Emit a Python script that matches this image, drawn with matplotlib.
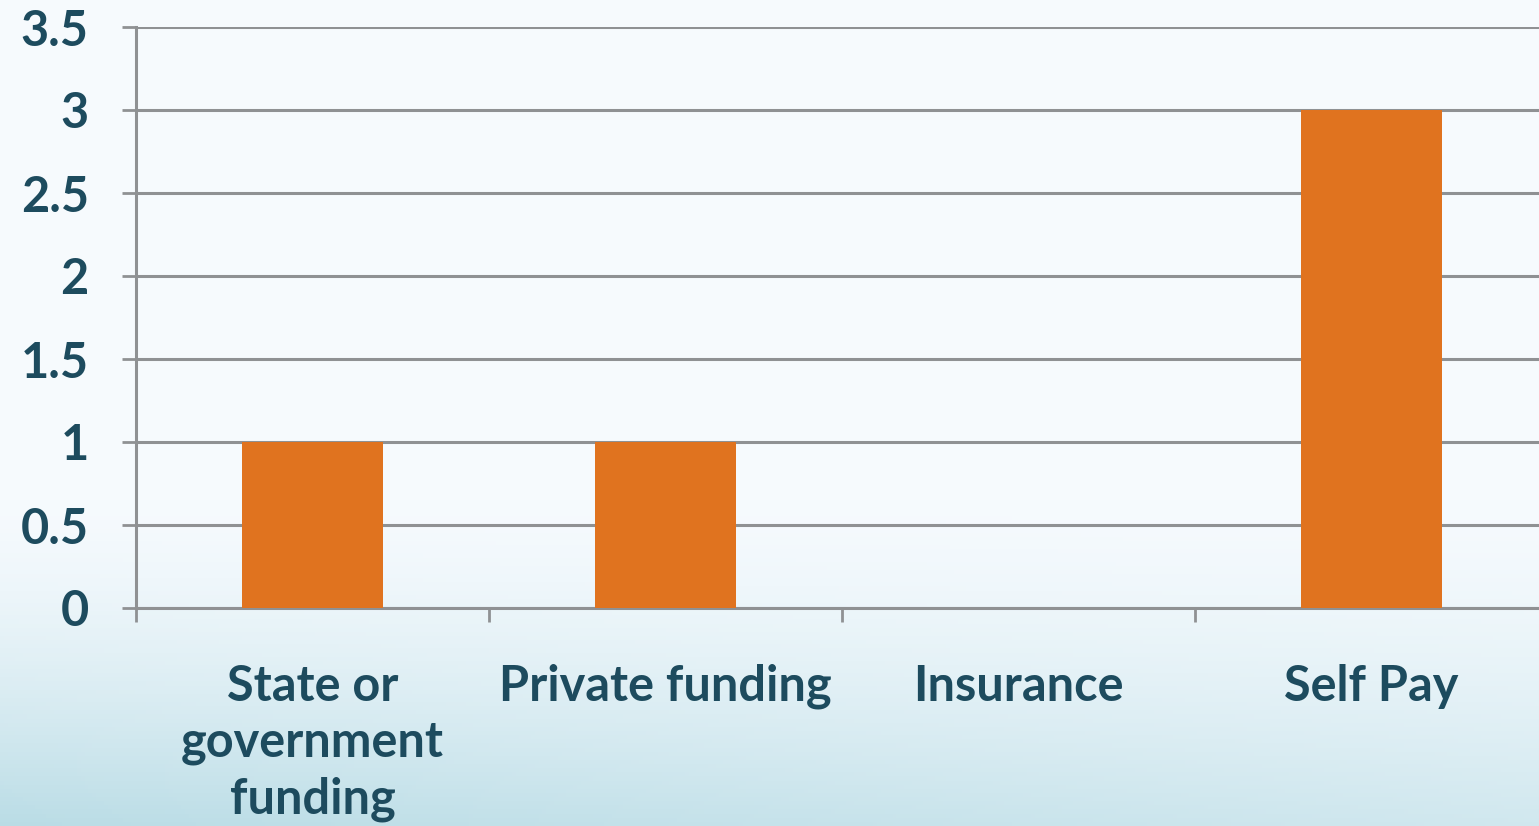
import numpy as np
from matplotlib import pyplot as plt
from matplotlib import ticker

categories = ['State or\ngovernment\nfunding', 'Private funding', 'Insurance', 'Self Pay']
counts = [1, 1, 0, 3]
y_ticks = [0, 0.5, 1, 1.5, 2, 2.5, 3, 3.5]
y_labels = ['0', '0.5', '1', '1.5', '2', '2.5', '3', '3.5']

text_color = '#1d4b5e'
grid_color = '#8f9193'
bar_color = '#e0731f'

plt.rcParams['font.family'] = ['Lato', 'DejaVu Sans']
plt.rcParams['font.weight'] = 'bold'

fig = plt.figure(figsize=(15.39, 8.26), dpi=100)

# slide-like background: white at the top, fading to pale blue at the bottom
bg = fig.add_axes([0, 0, 1, 1], zorder=-10)
h, w = 200, 400
yy, xx = np.mgrid[0:1:h * 1j, 0:1:w * 1j]
t = np.clip((yy - 0.6) / 0.4, 0, 1) ** 1.5
t = t * (1.0 - 0.35 * xx) + 0.15 * np.clip(yy - 0.7, 0, 1) * (1 - xx)
top = np.array([0.965, 0.982, 0.995])
bottom = np.array([0.74, 0.87, 0.905])
img = top[None, None, :] * (1 - t[..., None]) + bottom[None, None, :] * t[..., None]
bg.imshow(np.clip(img, 0, 1), aspect='auto', extent=[0, 1, 0, 1], origin='upper')
bg.set_axis_off()

ax = fig.add_axes([136 / 1539, 1 - 608 / 826, 1412 / 1539, 581 / 826])
ax.patch.set_alpha(0)

x = np.arange(len(categories))
ax.bar(x, counts, width=0.4, color=bar_color, zorder=3)

ax.set_xlim(-0.5, len(categories) - 0.5)
ax.set_ylim(0, 3.5)
ax.set_yticks(y_ticks)
ax.set_yticklabels(y_labels)
ax.yaxis.grid(True, color=grid_color, linewidth=2.2)
ax.set_axisbelow(True)

# category boundaries get tick marks, labels sit on minor ticks at centres
ax.xaxis.set_major_locator(ticker.FixedLocator(np.arange(-0.5, len(categories), 1.0)))
ax.xaxis.set_major_formatter(ticker.NullFormatter())
ax.xaxis.set_minor_locator(ticker.FixedLocator(x))
ax.xaxis.set_minor_formatter(ticker.FixedFormatter(categories))
ax.tick_params(axis='x', which='major', length=10, width=2, color=grid_color)
ax.tick_params(axis='x', which='minor', length=0, pad=40,
               labelsize=35, labelcolor=text_color)
for lab in ax.get_xticklabels(minor=True):
    lab.set_verticalalignment('top')
    lab.set_linespacing(1.3)
ax.tick_params(axis='y', length=10, width=2, color=grid_color, pad=24,
               labelsize=35, labelcolor=text_color)

for side in ['top', 'right']:
    ax.spines[side].set_visible(False)
for side in ['left', 'bottom']:
    ax.spines[side].set_color(grid_color)
    ax.spines[side].set_linewidth(2.2)

fig.savefig('out.png', dpi=100)
